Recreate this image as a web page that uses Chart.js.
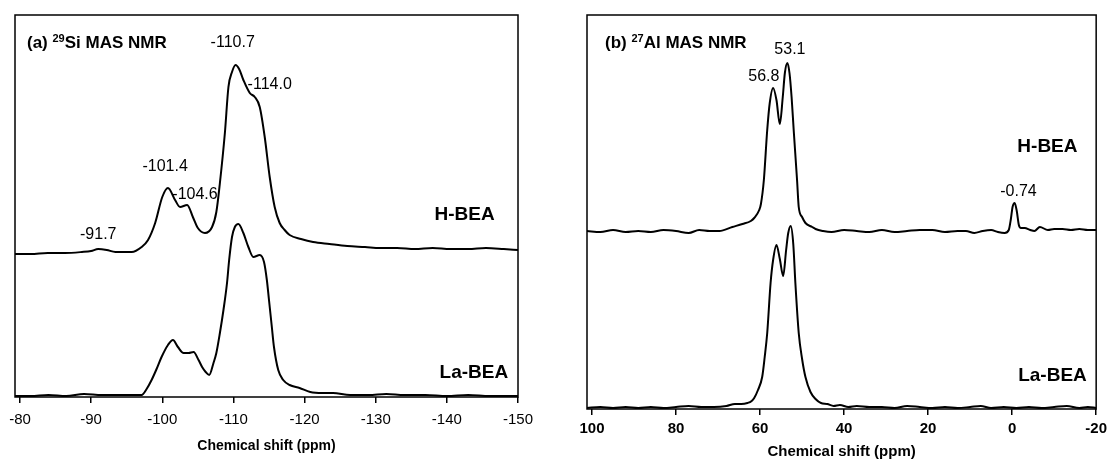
<!DOCTYPE html>
<html>
<head>
<meta charset="utf-8">
<script src="https://cdn.jsdelivr.net/npm/chart.js@4.4.0/dist/chart.umd.min.js"></script>
<style>
  html, body { margin: 0; padding: 0; background: #fff; }
  #wrap { position: relative; width: 1112px; height: 473px; overflow: hidden; }
  #siChart { position: absolute; left: 0; top: 0; }
  #alChart { position: absolute; left: 560px; top: 0; }
</style>
</head>
<body>
<div id="wrap">
  <canvas id="siChart" width="560" height="473"></canvas>
  <canvas id="alChart" width="552" height="473"></canvas>
</div>
<script>
// (a) 29Si spectra, chemical shift in ppm, intensity in arbitrary units
var siTicks = [-150, -140, -130, -120, -110, -100, -90, -80];
var siShiftH = [-79.3, -81.5, -83.9, -86.3, -88.7, -90.0, -91.0, -92.2, -93.4, -95.7,
  -97.1, -98.0, -99.0, -100.0, -100.8, -101.8, -102.5, -103.5, -104.3, -105.0,
  -106.0, -107.0, -107.6, -108.1, -108.8, -109.3, -109.8, -110.3, -110.8, -111.4,
  -112.3, -113.0, -113.7, -114.4, -115.1, -115.8, -116.5, -117.2, -117.9, -119.5,
  -121.2, -123.5, -126, -128.5, -130.6, -133, -135.5, -138, -140.5, -143,
  -145.5, -148, -150];
var siIntH = [143, 143, 144, 144, 145, 146, 148, 147, 145, 145,
  150, 157, 174, 200, 209, 197, 190, 192, 180, 169,
  164, 170, 185, 214, 264, 310, 325, 332, 328, 317,
  304, 300, 290, 260, 220, 190, 174, 167, 162, 158,
  155, 153, 151, 150, 149, 149, 148, 149, 148, 148,
  149, 148, 147];
var siShiftLa = [-79.3, -81.5, -84, -86.5, -89, -91.5, -94, -96.0, -97.1, -97.8,
  -98.5, -99.2, -99.9, -100.8, -101.5, -102.2, -103.0, -103.7, -104.4, -105.1,
  -105.6, -106.1, -106.6, -107.2, -107.6, -108.1, -108.6, -109.1, -109.4, -109.8,
  -110.2, -110.7, -111.4, -112.1, -112.8, -113.7, -114.3, -114.7, -115.0, -115.4,
  -115.7, -116.3, -117.0, -117.9, -119.3, -120.8, -122.5, -124.0, -126.4, -129,
  -131.5, -134, -137, -140, -143, -146, -150];
var siIntLa = [1, 1, 2, 1, 3, 2, 2, 2, 2, 8,
  17, 28, 40, 52, 57, 50, 44, 44, 45, 37,
  30, 25, 22, 34, 44, 64, 87, 114, 137, 160,
  170, 173, 164, 150, 140, 142, 135, 117, 97, 70,
  50, 27, 17, 12, 9, 5, 4, 4, 2, 2,
  3, 2, 2, 1, 2, 1, 1];
var siPeakLabels = ["-110.7", "-114.0", "-101.4", "-104.6", "-91.7"];

// (b) 27Al spectra
var alTicks = [100, 80, 60, 40, 20, 0, -20];
var alShiftH = [101.2, 98, 95, 92, 89, 86, 83, 80, 77, 74.5,
  72, 69.7, 66.6, 64.2, 62.2, 61.4, 60.2, 59.8, 59.1, 58.3,
  57.7, 56.9, 56.1, 55.3, 54.6, 54.1, 53.5, 53.0, 52.5, 52.0,
  51.2, 50.8, 50.0, 49.2, 47.6, 46.8, 45, 43, 40, 37,
  34, 31, 28, 25, 22, 19, 16, 13, 11, 9,
  7, 5, 3.4, 1.8, 0.8, 0.3, -0.1, -0.6, -1.1, -1.6,
  -2.1, -3, -4.3, -5.3, -6.6, -8.5, -10, -12, -14, -16,
  -18, -20];
var alIntH = [178, 177, 179, 177, 178, 177, 179, 178, 176, 179,
  178, 178, 182, 185, 188, 191, 199, 205, 229, 279,
  306, 321, 309, 285, 312, 336, 346, 336, 312, 279,
  229, 202, 192, 186, 182, 180, 178, 177, 179, 178,
  177, 179, 177, 178, 179, 179, 177, 178, 178, 176,
  178, 179, 177, 176, 179, 190, 202, 206, 198, 184,
  181, 181, 179, 178, 182, 179, 180, 180, 179, 180,
  179, 179];
var alShiftLa = [101.2, 98, 95, 92, 89, 86, 83, 80, 77, 74,
  71, 68, 66, 64.5, 63, 62, 61.4, 60.5, 59.5, 58.9,
  58.3, 57.5, 56.9, 56.1, 55.3, 54.5, 53.8, 53.3, 52.7, 52.1,
  51.6, 50.8, 50.0, 49.2, 48.0, 46.8, 45.5, 44, 42.5, 41,
  39, 37, 34, 31, 28, 25, 22, 19, 16, 13,
  10, 7.5, 5, 2, -1, -4, -7, -10, -13, -16,
  -18, -20];
var alIntLa = [1, 2, 1, 2, 1, 2, 1, 2, 3, 2,
  2, 3, 5, 5, 6, 8, 11, 19, 32, 52,
  76, 126, 149, 164, 150, 133, 159, 176, 183, 165,
  126, 76, 50, 32, 17, 10, 6, 5, 3, 4,
  2, 3, 2, 2, 1, 3, 2, 1, 2, 1,
  2, 3, 1, 2, 1, 2, 1, 2, 3, 1,
  2, 1];
var alPeakLabels = ["53.1", "56.8", "-0.74"];
var sampleNames = ["H-BEA", "La-BEA"];

var FONT = "'Liberation Sans', Arial, Helvetica, sans-serif";

function toPoints(xs, ys) {
  return xs.map(function (x, i) {
    return { x: x, y: ys[i] };
  });
}

// frame, panel title, axis title and text labels
var decorPlugin = {
  id: "decor",
  afterDraw: function (chart, args, opts) {
    var a = chart.chartArea;
    var ctx = chart.ctx;
    var xs = chart.scales.x;
    var ys = chart.scales.y;
    ctx.save();
    ctx.strokeStyle = "#000";
    ctx.lineWidth = 1.5;
    ctx.strokeRect(a.left, a.top, a.right - a.left, a.bottom - a.top);

    // title with superscript isotope number
    var tx = a.left + opts.titleDx;
    var ty = a.top + opts.titleDy;
    ctx.fillStyle = "#000";
    ctx.textAlign = "left";
    ctx.textBaseline = "middle";
    ctx.font = "bold 17px " + FONT;
    ctx.fillText(opts.title[0], tx, ty);
    tx += ctx.measureText(opts.title[0]).width;
    ctx.font = "bold 11px " + FONT;
    ctx.fillText(opts.title[1], tx, ty - 4);
    tx += ctx.measureText(opts.title[1]).width;
    ctx.font = "bold 17px " + FONT;
    ctx.fillText(opts.title[2], tx, ty);

    ctx.textAlign = "center";
    ctx.font = "bold " + opts.axisTitleSize + "px " + FONT;
    ctx.fillText("Chemical shift (ppm)", (a.left + a.right) / 2, a.bottom + opts.axisTitleDy);

    opts.labels.forEach(function (l) {
      ctx.font = l.font;
      ctx.fillText(l.text, xs.getPixelForValue(l.x), ys.getPixelForValue(l.y));
    });
    ctx.restore();
  },
};

function makeChart(id, cfg) {
  return new Chart(document.getElementById(id), {
    type: "scatter",
    data: {
      datasets: cfg.series.map(function (s) {
        return {
          data: toPoints(s[0], s[1]),
          showLine: true,
          borderColor: "#000",
          borderWidth: 2,
          pointRadius: 0,
          cubicInterpolationMode: "monotone",
        };
      }),
    },
    options: {
      responsive: false,
      animation: false,
      events: [],
      layout: { padding: cfg.padding },
      plugins: {
        legend: { display: false },
        tooltip: { enabled: false },
        decor: cfg.decor,
      },
      scales: {
        x: {
          type: "linear",
          reverse: true,
          min: cfg.xMin,
          max: cfg.xMax,
          afterBuildTicks: function (scale) {
            scale.ticks = cfg.ticks.map(function (v) {
              return { value: v };
            });
          },
          afterFit: function (scale) {
            scale.height = cfg.axisHeight;
          },
          border: { display: false },
          grid: {
            drawOnChartArea: false,
            drawTicks: true,
            tickLength: 6,
            color: "#000",
            lineWidth: 1.5,
          },
          ticks: {
            color: "#000",
            padding: cfg.tickPad,
            maxRotation: 0,
            font: { family: FONT, size: 15, weight: cfg.tickWeight },
            callback: function (v) {
              return String(v);
            },
          },
        },
        y: { display: false, min: 0, max: cfg.yMax },
      },
    },
    plugins: [decorPlugin],
  });
}

var peakFont = "16px " + FONT;
var nameFont = "bold 19px " + FONT;

makeChart("siChart", {
  series: [[siShiftH, siIntH], [siShiftLa, siIntLa]],
  ticks: siTicks,
  xMin: -150,
  xMax: -79.3,
  yMax: 382,
  padding: { top: 15, left: 15, right: 42, bottom: 0 },
  axisHeight: 76,
  tickPad: 8,
  tickWeight: "normal",
  decor: {
    title: ["(a) ", "29", "Si MAS NMR"],
    titleDx: 12,
    titleDy: 28,
    axisTitleSize: 14,
    axisTitleDy: 49,
    labels: [
      { text: siPeakLabels[0], x: -109.9, y: 354, font: peakFont },
      { text: siPeakLabels[1], x: -115.1, y: 312, font: peakFont },
      { text: siPeakLabels[2], x: -100.4, y: 230, font: peakFont },
      { text: siPeakLabels[3], x: -104.6, y: 202, font: peakFont },
      { text: siPeakLabels[4], x: -91.0, y: 162, font: peakFont },
      { text: sampleNames[0], x: -142.5, y: 182, font: nameFont },
      { text: sampleNames[1], x: -143.8, y: 24, font: nameFont },
    ],
  },
});

makeChart("alChart", {
  series: [[alShiftH, alIntH], [alShiftLa, alIntLa]],
  ticks: alTicks,
  xMin: -20,
  xMax: 101.2,
  yMax: 394,
  padding: { top: 15, left: 27, right: 13, bottom: 0 },
  axisHeight: 64,
  tickPad: 5,
  tickWeight: "bold",
  decor: {
    title: ["(b) ", "27", "Al MAS NMR"],
    titleDx: 18,
    titleDy: 28,
    axisTitleSize: 15,
    axisTitleDy: 43,
    labels: [
      { text: alPeakLabels[0], x: 52.9, y: 359, font: peakFont },
      { text: alPeakLabels[1], x: 59.1, y: 332, font: peakFont },
      { text: alPeakLabels[2], x: -1.5, y: 217, font: peakFont },
      { text: sampleNames[0], x: -8.4, y: 262, font: nameFont },
      { text: sampleNames[1], x: -9.6, y: 33, font: nameFont },
    ],
  },
});
</script>
</body>
</html>
